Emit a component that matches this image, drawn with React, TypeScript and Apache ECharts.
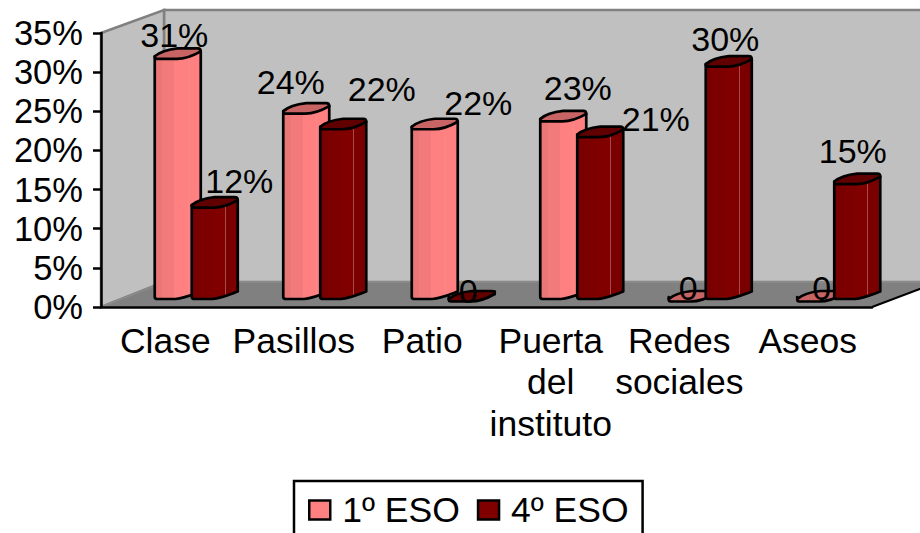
import React, { useEffect, useRef } from "react";
import * as echarts from "echarts";

const categories = ["Clase", "Pasillos", "Patio", "Puerta\ndel\ninstituto", "Redes\nsociales", "Aseos"];
const yTicks = [0, 5, 10, 15, 20, 25, 30, 35];
const eso1 = [31, 24, 22, 23, 0, 0];
const eso4 = [12, 22, 0, 21, 30, 15];

// label placement relative to the category centre and the value position
const labelOffsets1 = [[9, -29], [-3, -37], [56, -32], [27, -39], [9, -19], [14, -19]];
const labelOffsets4 = [[74, -32], [88, -46], [46, -16], [105, -24], [46, -33], [45, -39]];

const FONT = "'Liberation Sans', Arial, sans-serif";
const BAR_W = 46;
const DEPTH_Y = 8;

const band = (stops: [number, string][]) => {
  const colorStops: any[] = [];
  stops.forEach(([end, color], i) => {
    const start = i === 0 ? 0 : stops[i - 1][0];
    colorStops.push({ offset: start, color }, { offset: end, color });
  });
  return { type: "linear", x: 0, y: 0, x2: 1, y2: 0, colorStops };
};

const lightBody = band([[0.16, "#ea7676"], [0.42, "#f37a7a"], [0.72, "#ff8080"], [0.74, "#f58a8a"], [1, "#ff8080"]]);
const darkBody = band([[0.16, "#780000"], [0.42, "#7c0000"], [0.72, "#800000"], [0.735, "#a84a4a"], [1, "#7a0000"]]);

const makeRender = (values: number[], offset: number, body: any, top: string, labels: number[][]) =>
  (params: any, api: any) => {
    const i = api.value(0);
    const v = api.value(1);
    const [cx, vy] = api.coord([i, v]);
    const [, zy] = api.coord([i, 0]);
    const x = cx + offset;
    const w = BAR_W;
    const yt = vy - DEPTH_Y;
    const yb = zy - DEPTH_Y;
    const bodyPath =
      `M${x},${yt} L${x},${yb - 2} Q${x},${yb} ${x + 3},${yb} L${x + 0.45 * w},${yb} ` +
      `C${x + 0.65 * w},${yb - 1} ${x + 0.85 * w},${yb - 5} ${x + w},${yb - 7.5} L${x + w},${yt - 5} Z`;
    const topPath =
      `M${x},${yt} C${x + 0.1 * w},${yt - 4} ${x + 0.3 * w},${yt - 7} ${x + 0.5 * w},${yt - 8} ` +
      `L${x + w - 3},${yt - 8} Q${x + w},${yt - 8} ${x + w},${yt - 5} ` +
      `C${x + 0.85 * w},${yt - 1} ${x + 0.65 * w},${yt + 2.5} ${x + 0.48 * w},${yt + 2.5} ` +
      `L${x + 2},${yt + 2.5} Q${x},${yt + 2.5} ${x},${yt} Z`;
    const stroke = { stroke: "#000", lineWidth: 2.7, lineJoin: "round" };
    const idx = params.dataIndex;
    return {
      type: "group",
      children: [
        { type: "path", shape: { pathData: bodyPath }, style: { fill: body, ...stroke } },
        { type: "path", shape: { pathData: topPath }, style: { fill: top, ...stroke } },
        {
          type: "text",
          z2: 100,
          x: cx + labels[idx][0],
          y: vy + labels[idx][1],
          style: {
            text: values[idx] === 0 ? "0" : `${values[idx]}%`,
            fill: "#000",
            font: `34px ${FONT}`,
            align: "center",
            verticalAlign: "middle",
          },
        },
      ],
    };
  };

export default function App() {
  const ref = useRef<HTMLDivElement>(null);
  useEffect(() => {
    const chart = echarts.init(ref.current!, null, { renderer: "svg" });
    const gray = "#808080";
    chart.setOption({
      animation: false,
      backgroundColor: "#fff",
      textStyle: { fontFamily: FONT },
      graphic: {
        elements: [
          { type: "polygon", z: -5, shape: { points: [[164, 10], [164, 282], [940, 282], [940, 10]] }, style: { fill: "#c0c0c0", stroke: gray, lineWidth: 2.5 } },
          { type: "polygon", z: -4, shape: { points: [[101, 33], [164, 10], [164, 282], [101, 307]] }, style: { fill: "#c0c0c0", stroke: gray, lineWidth: 2.5 } },
          { type: "polygon", z: -3, shape: { points: [[101, 307], [164, 282], [935, 282], [872, 307]] }, style: { fill: "#808080", stroke: "#8c8c8c", lineWidth: 1.5 } },
          { type: "line", z: -2, shape: { x1: 872, y1: 307, x2: 925, y2: 287 }, style: { stroke: "#000", lineWidth: 2 } },
        ],
      },
      grid: { left: 101, right: 48, top: 33, bottom: 226 },
      legend: {
        left: 294,
        top: 481,
        padding: [11, 14, 30, 14],
        itemWidth: 21,
        itemHeight: 19,
        itemGap: 17,
        borderColor: "#000",
        borderWidth: 2.5,
        backgroundColor: "#fff",
        icon: "rect",
        itemStyle: { borderColor: "#000", borderWidth: 2.5 },
        textStyle: { fontSize: 35.5, color: "#000", fontFamily: FONT, padding: [0, 0, 0, 7] },
        data: ["1º ESO", "4º ESO"],
      },
      xAxis: {
        type: "category",
        data: categories,
        boundaryGap: true,
        axisLine: { lineStyle: { color: "#000", width: 2.5 } },
        axisTick: { length: 6, lineStyle: { color: "#000", width: 2.5 } },
        axisLabel: { interval: 0, color: "#000", fontSize: 35.5, margin: 13, lineHeight: 41.5, fontFamily: FONT, align: "center" },
      },
      yAxis: {
        type: "value",
        min: yTicks[0],
        max: yTicks[yTicks.length - 1],
        interval: 5,
        axisLine: { show: true, lineStyle: { color: "#000", width: 2.5 } },
        axisTick: { show: true, length: 8, lineStyle: { color: "#000", width: 2.5 } },
        splitLine: { show: false },
        axisLabel: { formatter: "{value}%", color: "#000", fontSize: 34.5, margin: 18, fontFamily: FONT },
      },
      series: [
        {
          type: "custom",
          name: "1º ESO",
          clip: false,
          itemStyle: { color: "#ff8080" },
          encode: { x: 0, y: 1 },
          data: eso1.map((v, i) => [i, v]),
          renderItem: makeRender(eso1, -10.5, lightBody, "#c86464", labelOffsets1),
        },
        {
          type: "custom",
          name: "4º ESO",
          clip: false,
          itemStyle: { color: "#800000" },
          encode: { x: 0, y: 1 },
          data: eso4.map((v, i) => [i, v]),
          renderItem: makeRender(eso4, 26.5, darkBody, "#600000", labelOffsets4),
        },
      ],
    });
    return () => chart.dispose();
  }, []);
  return <div ref={ref} style={{ position: "fixed", left: 0, top: 0, width: 920, height: 533 }} />;
}
